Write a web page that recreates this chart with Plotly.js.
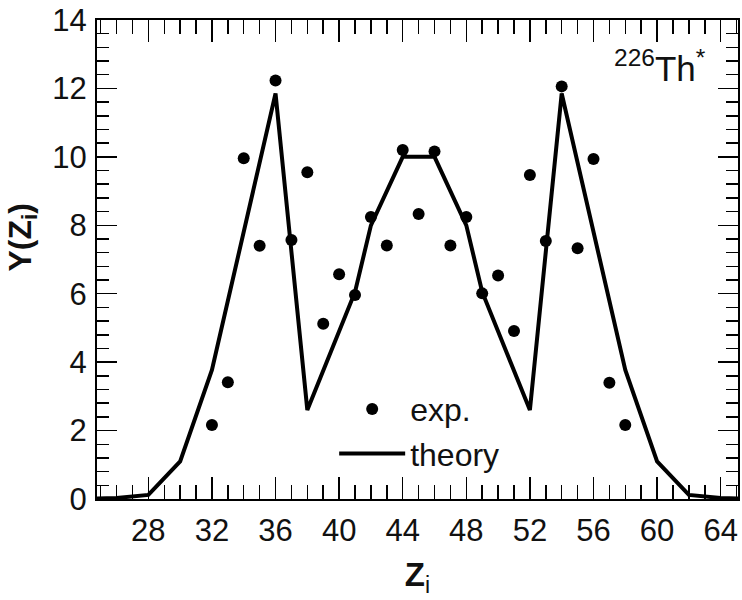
<!DOCTYPE html>
<html>
<head>
<meta charset="utf-8">
<script src="https://cdn.plot.ly/plotly-3.0.1.min.js"></script>
<style>
html,body{margin:0;padding:0;background:#fff;}
#chart{width:742px;height:600px;}
</style>
</head>
<body>
<div id="chart"></div>
<script>
// Experimental yields
const expZ = [32,33,34,35,36,37,38,39,40,41,42,43,44,45,46,47,48,49,50,51,52,53,54,55,56,57,58];
const expY = [2.16,3.41,9.96,7.40,12.23,7.57,9.55,5.12,6.57,5.96,8.24,7.41,10.20,8.33,10.16,7.41,8.24,6.01,6.53,4.91,9.47,7.54,12.06,7.33,9.94,3.40,2.16];

// Theory curve
const theoryZ = [24,26,28,30,32,36,38,40,41,42,44,46,48,49,50,52,54,58,60,62,64,66];
const theoryY = [0,0.03,0.12,1.1,3.77,11.85,2.6,4.9,6.05,8.0,10.0,10.0,8.0,6.05,4.9,2.6,11.85,3.77,1.1,0.12,0.03,0];

const xTickVals = [28,32,36,40,44,48,52,56,60,64];
const yTickVals = [0,2,4,6,8,10,12,14];

const FONT = 'Liberation Sans, Arial, sans-serif';

const traces = [
  {
    x: expZ, y: expY, type: 'scatter', mode: 'markers', name: 'exp.',
    marker: {color: '#000', size: 12, symbol: 'circle'}
  },
  {
    x: theoryZ, y: theoryY, type: 'scatter', mode: 'lines', name: 'theory',
    line: {color: '#000', width: 4}
  }
];

const axisCommon = {
  showline: true, linecolor: '#000', linewidth: 2,
  mirror: 'allticks', ticks: 'inside', tickcolor: '#000', tickwidth: 1.5,
  showgrid: false, zeroline: false,
  tickfont: {family: FONT, size: 31, color: '#111'}
};

const layout = {
  width: 742, height: 600,
  margin: {l: 97, r: 4, t: 20, b: 101},
  paper_bgcolor: '#fff', plot_bgcolor: '#fff',
  showlegend: true,
  legend: {
    x: 0.37, y: 0.245, xanchor: 'left', yanchor: 'top',
    font: {family: FONT, size: 32, color: '#111'},
    bgcolor: 'rgba(0,0,0,0)', borderwidth: 0,
    itemwidth: 66, tracegroupgap: 0
  },
  xaxis: Object.assign({}, axisCommon, {
    range: [24.77, 65.09],
    tickmode: 'array', tickvals: xTickVals, ticktext: xTickVals.map(String),
    ticklen: 22,
    minor: {dtick: 1, tick0: 0, ticklen: 14, tickwidth: 1.5, tickcolor: '#000', ticks: 'inside'},
    ticklabelstandoff: 3,
    title: {text: '<b>Z</b><sub>i</sub>', font: {family: FONT, size: 33, color: '#111'}, standoff: 16}
  }),
  yaxis: Object.assign({}, axisCommon, {
    range: [0, 14],
    tickmode: 'array', tickvals: yTickVals, ticktext: yTickVals.map(String),
    ticklen: 20,
    minor: {dtick: 0.4, tick0: 0, ticklen: 12, tickwidth: 1.5, tickcolor: '#000', ticks: 'inside'},
    ticklabelstandoff: 2,
    title: {text: ''}
  }),
  annotations: [
    {
      xref: 'paper', yref: 'paper', x: 0.953, y: 0.955, xanchor: 'right', yanchor: 'top',
      text: '<sup>226</sup>Th<sup>*</sup>', showarrow: false,
      font: {family: FONT, size: 35, color: '#111'}
    },
    {
      xref: 'paper', yref: 'paper', x: -0.116, y: 0.545, xanchor: 'center', yanchor: 'middle',
      text: '<b>Y(Z<sub>i</sub>)</b>', showarrow: false, textangle: -90,
      font: {family: FONT, size: 32, color: '#111'}
    }
  ]
};

Plotly.newPlot('chart', traces, layout, {displayModeBar: false, staticPlot: true});
</script>
</body>
</html>
